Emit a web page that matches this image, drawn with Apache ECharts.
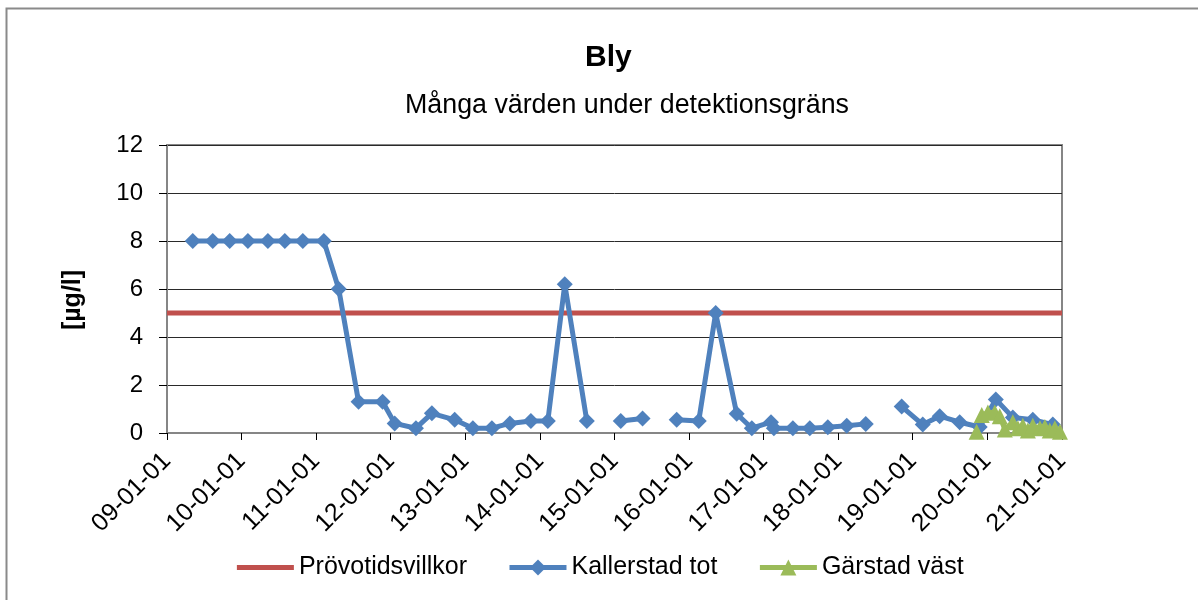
<!DOCTYPE html>
<html>
<head>
<meta charset="utf-8">
<script src="https://cdn.jsdelivr.net/npm/echarts@6/dist/echarts.min.js"></script>
<style>html,body{margin:0;padding:0;background:#fff}#c{width:1198px;height:600px}</style>
</head>
<body>
<div id="c"></div>
<script>
const titleText = 'Bly';
const subtitleText = 'Många värden under detektionsgräns';
const yAxisName = '[µg/l]';
const seriesNames = ['Prövotidsvillkor', 'Kallerstad tot', 'Gärstad väst'];

const limitDates = ['2009-01-01', '2021-01-01'];
const limitValues = [5, 5];

const kallerstadDates = [
  '2009-05-07','2009-08-13','2009-11-04','2010-02-01','2010-05-10','2010-08-01','2010-10-28',
  '2011-02-08','2011-04-22','2011-07-28','2011-11-23','2012-01-21','2012-05-04','2012-07-21',
  '2012-11-10','2013-02-07','2013-05-11','2013-08-07','2013-11-18','2014-02-09','2014-05-03',
  '2014-08-19','2014-11-10','2015-02-01','2015-05-19','2015-08-10','2015-11-02','2016-02-18',
  '2016-05-11','2016-08-22','2016-11-04','2017-02-06','2017-02-20','2017-05-24','2017-08-15',
  '2017-11-11','2018-02-12','2018-05-16','2018-08-10','2018-11-08','2019-02-19','2019-05-13',
  '2019-08-19','2019-11-25','2020-02-12','2020-05-05','2020-08-11','2020-11-17'
];
const kallerstadValues = [
  8, 8, 8, 8, 8, 8, 8,
  8, 6, 1.3, 1.3, 0.4, 0.2, 0.82,
  0.55, 0.2, 0.2, 0.4, 0.5, 0.5, 6.2,
  0.5, null, 0.5, 0.6, null, 0.55, 0.5,
  5.0, 0.8, 0.2, 0.45, 0.2, 0.2, 0.2,
  0.24, 0.3, 0.38, null, 1.1, 0.35, 0.7,
  0.45, 0.25, 1.4, 0.65, 0.55, 0.35
];

const garstadDates = [
  '2019-11-10','2019-12-05','2020-01-04','2020-02-07','2020-03-02','2020-03-27','2020-05-05',
  '2020-05-30','2020-06-23','2020-07-18','2020-08-11','2020-09-15','2020-10-09','2020-11-02',
  '2020-11-27','2020-12-22'
];
const garstadValues = [
  0.05, 0.75, 0.85, 0.85, 0.7, 0.15, 0.45,
  0.2, 0.3, 0.1, 0.3, 0.2, 0.25, 0.1,
  0.2, 0.05
];

const zip = (d, v) => d.map((x, i) => [x, v[i] === null ? '-' : v[i]]);

const RED = '#C0504D', BLUE = '#4F81BD', GREEN = '#9BBB59';
const chart = echarts.init(document.getElementById('c'), null, {renderer: 'canvas'});
const FONT = 'Liberation Sans, Arial, sans-serif';
chart.setOption({
  animation: false,
  backgroundColor: '#fff',
  textStyle: {fontFamily: FONT},
  graphic: [{
    type: 'rect', left: 4, top: 6, silent: true,
    shape: {width: 1200, height: 600},
    style: {fill: 'none', stroke: '#8a8a8a', lineWidth: 2}
  }],
  title: [
    {text: titleText, left: 580, top: 38,
     textStyle: {fontSize: 30, fontWeight: 'bold', color: '#000', fontFamily: FONT}},
    {text: subtitleText, left: 400, top: 87,
     textStyle: {fontSize: 26.8, fontWeight: 'normal', color: '#000', fontFamily: FONT}}
  ],
  legend: {
    bottom: 15, left: 'center', itemWidth: 57, itemHeight: 20, itemGap: 40,
    textStyle: {fontSize: 25, color: '#000', fontFamily: FONT},
    data: [
      {name: seriesNames[0], lineStyle: {width: 5, color: RED}, itemStyle: {opacity: 0}},
      {name: seriesNames[1], lineStyle: {width: 5, color: BLUE}},
      {name: seriesNames[2], lineStyle: {width: 5, color: GREEN}}
    ]
  },
  grid: {left: 167, right: 136, top: 145, bottom: 167, containLabel: false,
         show: true, borderColor: '#868686', borderWidth: 2, backgroundColor: 'transparent'},
  xAxis: {
    type: 'time', min: '2009-01-01', max: '2021-01-01', splitNumber: 12,
    minInterval: 365 * 24 * 3600 * 1000,
    axisLine: {lineStyle: {color: '#868686', width: 2}},
    axisTick: {show: true, length: 7, lineStyle: {color: '#000'}},
    splitLine: {show: false},
    axisLabel: {formatter: '{yy}-{MM}-{dd}', rotate: 45, fontSize: 25, color: '#000',
                fontFamily: FONT, margin: 24, showMinLabel: true, showMaxLabel: true,
                hideOverlap: false}
  },
  yAxis: {
    type: 'value', min: 0, max: 12, interval: 2,
    name: yAxisName, nameLocation: 'middle', nameRotate: 90, nameGap: 81,
    nameTextStyle: {fontSize: 25, fontWeight: 'bold', color: '#000', fontFamily: FONT,
                    padding: [0, 22, 0, 0]},
    axisLine: {show: true, lineStyle: {color: '#868686', width: 2}},
    axisTick: {show: true, length: 8, lineStyle: {color: '#000'}},
    splitLine: {lineStyle: {color: '#2a2a2a', width: 1}},
    axisLabel: {fontSize: 24, color: '#000', fontFamily: FONT, margin: 24}
  },
  series: [
    {name: seriesNames[0], type: 'line', data: zip(limitDates, limitValues),
     symbol: 'none', lineStyle: {color: RED, width: 5}, itemStyle: {color: RED}},
    {name: seriesNames[1], type: 'line', data: zip(kallerstadDates, kallerstadValues),
     connectNulls: false, symbol: 'diamond', symbolSize: 16, showAllSymbol: true,
     lineStyle: {color: BLUE, width: 5}, itemStyle: {color: BLUE}},
    {name: seriesNames[2], type: 'line', data: zip(garstadDates, garstadValues),
     symbol: 'triangle', symbolSize: 16, showAllSymbol: true,
     lineStyle: {color: GREEN, width: 5}, itemStyle: {color: GREEN}}
  ]
});
</script>
</body>
</html>
